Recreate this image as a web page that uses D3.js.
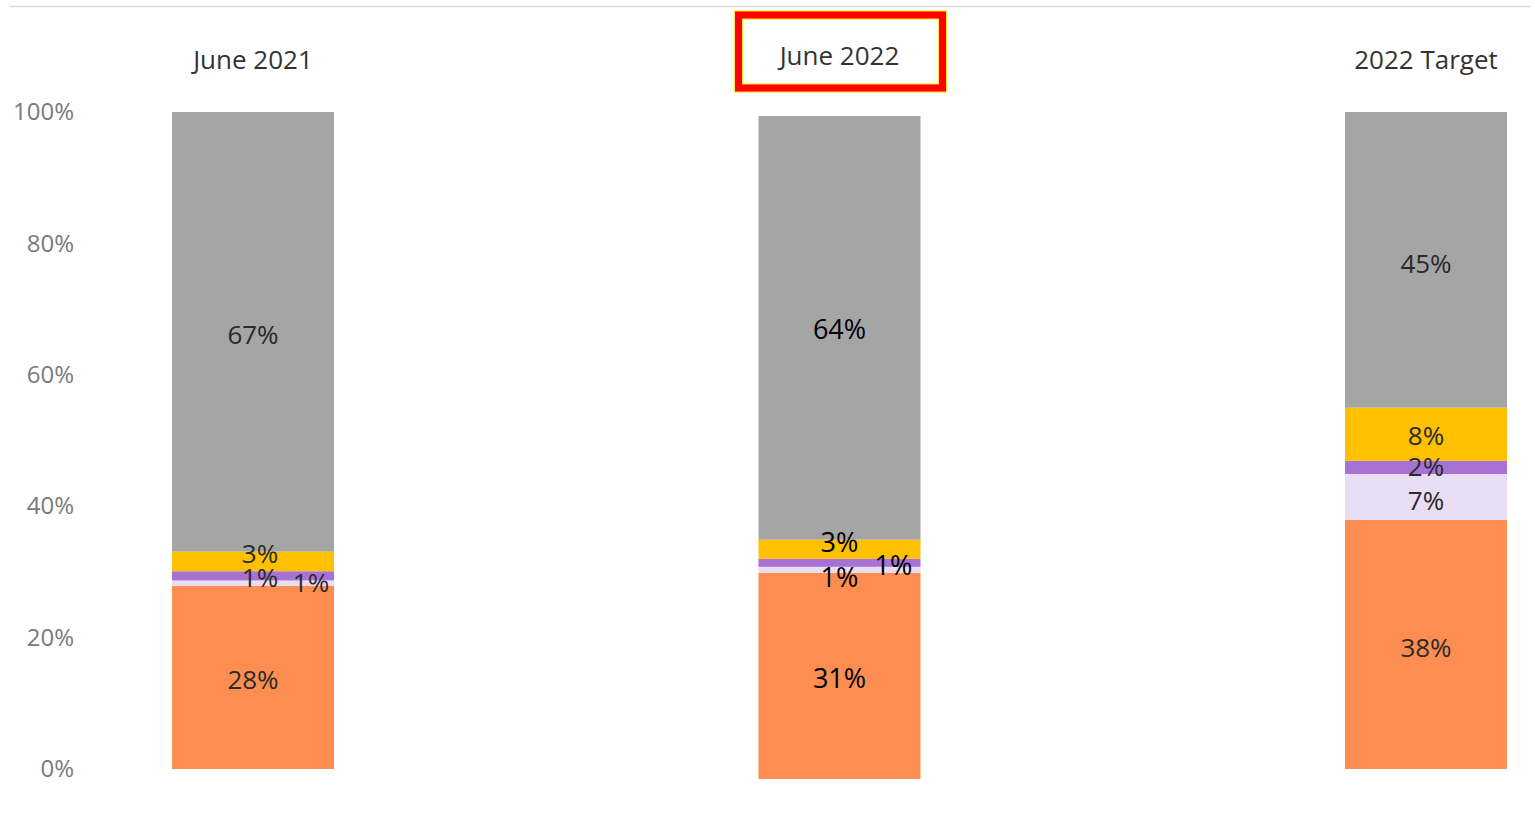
<!DOCTYPE html>
<html>
<head>
<meta charset="utf-8">
<script src="https://cdn.jsdelivr.net/npm/d3@7"></script>
<style>
	body { margin: 0; background: #fff; }
	text { font-family: 'Open Sans', 'Noto Sans', sans-serif; }
</style>
</head>
<body>
<div class="stack_chart"></div>
<script>
const WIDTH = 1535;
const HEIGHT = 820;

// data (percent of total, bottom to top)
const categories = ['June 2021', 'June 2022', '2022 Target'];
const series = ['orange', 'lavender', 'purple', 'yellow', 'gray'];
const orangeVals = [27.9, 31.1, 37.9];
const lavenderVals = [0.8, 0.9, 7.0];
const purpleVals = [1.4, 1.2, 2.0];
const yellowVals = [3.0, 2.9, 8.1];
const grayVals = [66.9, 63.9, 45.0];
const yTicks = [0, 20, 40, 60, 80, 100];

const COLORS = {
	orange: '#fe8d51',
	lavender: '#e9ddf3',
	purple: '#a872d4',
	yellow: '#ffc000',
	gray: '#a5a5a5'
};

// the middle bar sits a little lower in the original
const BAR_RANGE = { 'June 2022': [779, 116] };
const DEFAULT_RANGE = [769, 112];
const BARWIDTH = 162;

// manual nudges for the crowded small labels
const LABEL_NUDGE = {
	'June 2021|gray': [0, 3],
	'June 2021|orange': [0, 3],
	'June 2021|yellow': [7, -7],
	'June 2021|purple': [7, 2],
	'June 2021|lavender': [58, 0],
	'June 2022|yellow': [0, -7],
	'June 2022|purple': [54, 3],
	'June 2022|lavender': [0, 8],
	'June 2022|gray': [0, 2],
	'June 2022|orange': [0, 3],
	'2022 Target|gray': [0, 4],
	'2022 Target|orange': [0, 3],
	'2022 Target|yellow': [0, 2],
	'2022 Target|purple': [0, -1],
	'2022 Target|lavender': [0, 4]
};

const table = categories.map((c, i) => ({
	category: c,
	orange: orangeVals[i],
	lavender: lavenderVals[i],
	purple: purpleVals[i],
	yellow: yellowVals[i],
	gray: grayVals[i]
}));

const stacked = d3.stack().keys(series)(table);

const svg = d3
	.select('.stack_chart')
	.append('svg')
	.attr('width', WIDTH)
	.attr('height', HEIGHT);

// thin line along the top
svg.append('line')
	.attr('x1', 10)
	.attr('x2', 1530)
	.attr('y1', 6.5)
	.attr('y2', 6.5)
	.attr('stroke', '#dcdcdc')
	.attr('stroke-width', 1.5);

let xScale = d3.scalePoint().domain(categories).range([253, 1426]);

let yScale = d3.scaleLinear().domain([0, 100]).range(DEFAULT_RANGE);

function yFor(cat) {
	return d3.scaleLinear().domain([0, 100]).range(BAR_RANGE[cat] || DEFAULT_RANGE);
}

// y axis, labels only
let yAxis = d3
	.axisLeft(yScale)
	.tickValues(yTicks)
	.tickFormat(d => d + '%')
	.tickSize(0)
	.tickPadding(0);

let yG = svg.append('g')
	.attr('transform', 'translate(74, 0)')
	.call(yAxis);
yG.select('.domain').remove();
yG.selectAll('text')
	.attr('fill', '#7a7a7a')
	.style('font-size', '24px')
	.style('font-family', "'Open Sans', 'Noto Sans', sans-serif");

// bars
stacked.forEach(layer => {
	svg.append('g')
		.selectAll('rect')
		.data(layer)
		.enter()
		.append('rect')
		.attr('x', d => xScale(d.data.category) - BARWIDTH / 2)
		.attr('y', d => yFor(d.data.category)(d[1]))
		.attr('width', BARWIDTH)
		.attr('height', d => yFor(d.data.category)(d[0]) - yFor(d.data.category)(d[1]))
		.attr('fill', COLORS[layer.key]);
});

// value labels
stacked.forEach(layer => {
	svg.append('g')
		.selectAll('text')
		.data(layer)
		.enter()
		.append('text')
		.attr('x', d => {
			let n = LABEL_NUDGE[d.data.category + '|' + layer.key] || [0, 0];
			return xScale(d.data.category) + n[0];
		})
		.attr('y', d => {
			let y = yFor(d.data.category);
			let n = LABEL_NUDGE[d.data.category + '|' + layer.key] || [0, 0];
			return (y(d[0]) + y(d[1])) / 2 + n[1];
		})
		.attr('dy', '0.35em')
		.attr('text-anchor', 'middle')
		.attr('fill', d => d.data.category === 'June 2022' ? '#000' : '#2a2a2a')
		.style('font-size', d => d.data.category === 'June 2022' ? '27px' : '26px')
		.text(d => Math.round(d[1] - d[0]) + '%');
});

// category titles
svg.append('g')
	.selectAll('text')
	.data(categories)
	.enter()
	.append('text')
	.attr('x', d => xScale(d))
	.attr('y', (d, i) => i === 1 ? 56 : 60)
	.attr('dy', '0.35em')
	.attr('text-anchor', 'middle')
	.attr('fill', '#333')
	.style('font-size', '26px')
	.text(d => d);

// highlight box round June 2022
let bx = xScale('June 2022');
svg.append('rect')
	.attr('x', bx - 101)
	.attr('y', 15)
	.attr('width', 204)
	.attr('height', 73)
	.attr('fill', 'none')
	.attr('stroke', '#ffee33')
	.attr('stroke-width', 9.5);
svg.append('rect')
	.attr('x', bx - 101)
	.attr('y', 15)
	.attr('width', 204)
	.attr('height', 73)
	.attr('fill', 'none')
	.attr('stroke', '#ff0000')
	.attr('stroke-width', 7);
</script>
</body>
</html>
